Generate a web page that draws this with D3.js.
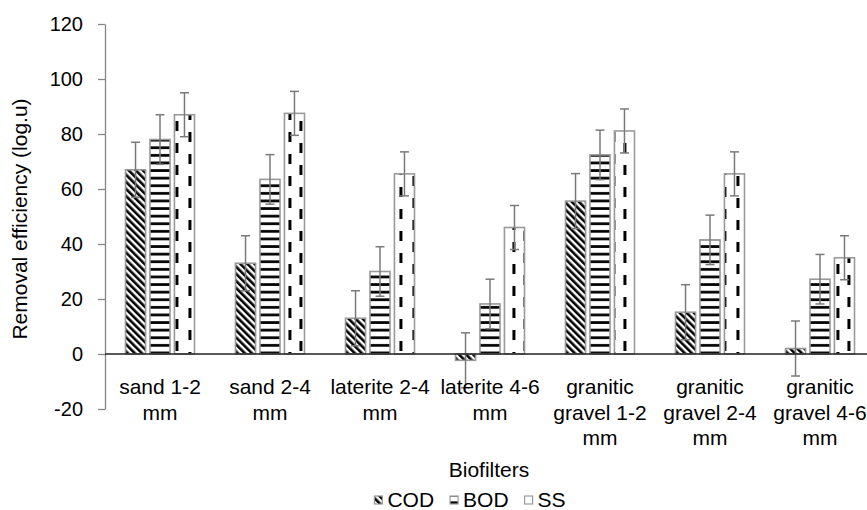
<!DOCTYPE html>
<html>
<head>
<meta charset="utf-8">
<script src="https://cdn.jsdelivr.net/npm/d3@7"></script>
<style>
  body { margin: 0; background: #fff; }
  text { font-family: "Liberation Sans", Arial, sans-serif; fill: #000; }
</style>
</head>
<body>
<script>
let w = 867;
let h = 510;

// data
var categories = ["sand 1-2 mm", "sand 2-4 mm", "laterite 2-4 mm", "laterite 4-6 mm",
    "granitic gravel 1-2 mm", "granitic gravel 2-4 mm", "granitic gravel 4-6 mm"];
var tickLines = [["sand 1-2", "mm"], ["sand 2-4", "mm"], ["laterite 2-4", "mm"], ["laterite 4-6", "mm"],
    ["granitic", "gravel 1-2", "mm"], ["granitic", "gravel 2-4", "mm"], ["granitic", "gravel 4-6", "mm"]];
var seriesNames = ["COD", "BOD", "SS"];
var cod = [67, 33, 13, -2.3, 55.6, 15.2, 2];
var bod = [78, 63.5, 30, 18.2, 72.4, 41.5, 27.2];
var ss = [87, 87.5, 65.5, 46, 81.1, 65.5, 35];
var codErr = [10, 10, 10, 10, 10, 10, 10];
var bodErr = [9, 9, 9, 9, 9, 9, 9];
var ssErr = [8, 8, 8, 8, 8, 8, 8];
var yTicks = [-20, 0, 20, 40, 60, 80, 100, 120];

var values = [cod, bod, ss];
var errors = [codErr, bodErr, ssErr];

var svg = d3.select("body").append("svg")
    .attr("width", w)
    .attr("height", h);

var defs = svg.append("defs");

var x = d3.scaleBand()
    .domain(categories)
    .range([105, 875])
    .padding(0);

var xInner = d3.scaleBand()
    .domain(seriesNames)
    .range([20.5, x.bandwidth() - 20.5])
    .paddingInner(0.18)
    .paddingOuter(0);

var y = d3.scaleLinear()
    .domain([-20, 120])
    .range([409, 24]);

// COD: "\" diagonal stripes
var pCod = defs.append("pattern")
    .attr("id", "p-COD")
    .attr("patternUnits", "userSpaceOnUse")
    .attr("width", 5).attr("height", 5)
    .attr("patternTransform", "rotate(-45)");
pCod.append("rect").attr("width", 5).attr("height", 5).attr("fill", "#fff");
pCod.append("rect").attr("width", 2.6).attr("height", 5).attr("fill", "#000");

// BOD: horizontal lines
var pBod = defs.append("pattern")
    .attr("id", "p-BOD")
    .attr("patternUnits", "userSpaceOnUse")
    .attr("width", 8).attr("height", 7.6);
pBod.append("rect").attr("width", 8).attr("height", 7.6).attr("fill", "#fff");
pBod.append("rect").attr("y", 2).attr("width", 8).attr("height", 2.7).attr("fill", "#000");

// SS: dashed vertical, one pattern per bar so the dashes sit inside it
var ssPattern = (id, x0) => {
    var p = defs.append("pattern")
        .attr("id", id)
        .attr("patternUnits", "userSpaceOnUse")
        .attr("x", x0).attr("y", 0)
        .attr("width", 24).attr("height", 22);
    p.append("rect").attr("width", 24).attr("height", 22).attr("fill", "#fff");
    p.append("rect").attr("x", 5).attr("y", 0).attr("width", 3).attr("height", 10).attr("fill", "#000");
    p.append("rect").attr("x", 16).attr("y", 11).attr("width", 3).attr("height", 10).attr("fill", "#000");
};
categories.forEach((c, i) => ssPattern("p-SS-" + i, x(c) + xInner("SS")));

var fillFor = (s, i) => s === "SS" ? "url(#p-SS-" + i + ")" : "url(#p-" + s + ")";

// y axis
var yAxis = svg.append("g")
    .attr("transform", "translate(105,0)")
    .call(d3.axisLeft(y).tickValues(yTicks).tickFormat(d => String(d))
        .tickSize(7).tickSizeOuter(0).tickPadding(15));
yAxis.select(".domain").attr("stroke", "#868686").attr("stroke-width", 1.3);
yAxis.selectAll(".tick line").attr("stroke", "#868686").attr("stroke-width", 1.3);
yAxis.selectAll(".tick text")
    .attr("font-size", 20)
    .attr("font-family", "Liberation Sans, Arial, sans-serif")
    .attr("fill", "#000");

// bars
var groups = svg.selectAll("g.cat").data(categories).enter().append("g")
    .attr("class", "cat")
    .attr("transform", d => "translate(" + x(d) + ",0)");

seriesNames.forEach((s, si) => {
    groups.append("rect")
        .attr("x", xInner(s))
        .attr("width", xInner.bandwidth())
        .attr("y", (d, i) => y(Math.max(0, values[si][i])))
        .attr("height", (d, i) => Math.abs(y(values[si][i]) - y(0)))
        .attr("fill", (d, i) => fillFor(s, i))
        .attr("stroke", "#9a9a9a")
        .attr("stroke-width", 1.6);
});

// x axis line at zero
svg.append("line")
    .attr("x1", 105).attr("x2", 875)
    .attr("y1", y(0)).attr("y2", y(0))
    .attr("stroke", "#222")
    .attr("stroke-width", 1.3);

// error bars
seriesNames.forEach((s, si) => {
    var cx = xInner(s) + xInner.bandwidth() / 2;
    var eb = groups.append("g").attr("stroke", "#7a7a7a").attr("stroke-width", 1.5);
    eb.append("line")
        .attr("x1", cx).attr("x2", cx)
        .attr("y1", (d, i) => y(values[si][i] + errors[si][i]))
        .attr("y2", (d, i) => y(values[si][i] - errors[si][i]));
    eb.append("line")
        .attr("x1", cx - 4.5).attr("x2", cx + 4.5)
        .attr("y1", (d, i) => y(values[si][i] + errors[si][i]))
        .attr("y2", (d, i) => y(values[si][i] + errors[si][i]));
    eb.append("line")
        .attr("x1", cx - 4.5).attr("x2", cx + 4.5)
        .attr("y1", (d, i) => y(values[si][i] - errors[si][i]))
        .attr("y2", (d, i) => y(values[si][i] - errors[si][i]));
});

// category labels
svg.selectAll("text.xlab").data(categories).enter().append("text")
    .attr("class", "xlab")
    .attr("text-anchor", "middle")
    .attr("font-size", 21)
    .each(function (d, i) {
        var t = d3.select(this);
        tickLines[i].forEach((line, k) => {
            t.append("tspan")
                .attr("x", x(d) + x.bandwidth() / 2)
                .attr("y", 394 + k * 25.5)
                .text(line);
        });
    });

// axis titles
svg.append("text")
    .attr("x", 489).attr("y", 477)
    .attr("text-anchor", "middle")
    .attr("font-size", 21)
    .text("Biofilters");

svg.append("text")
    .attr("transform", "translate(27,219) rotate(-90)")
    .attr("text-anchor", "middle")
    .attr("font-size", 21)
    .text("Removal efficiency (log.u)");

// legend
var legend = svg.append("g");
var lx = 0;
seriesNames.forEach((s, si) => {
    var item = legend.append("g").attr("transform", "translate(" + lx + ",0)");
    item.append("rect")
        .attr("x", 0).attr("y", -11)
        .attr("width", 8).attr("height", 8)
        .attr("fill", s === "SS" ? "#fff" : "url(#p-" + s + ")")
        .attr("stroke", "#9a9a9a")
        .attr("stroke-width", 1.2);
    var t = item.append("text")
        .attr("x", 13).attr("y", 0)
        .attr("font-size", 21)
        .text(s);
    lx += 13 + t.node().getComputedTextLength() + 16;
});
legend.attr("transform", "translate(" + (470 - (lx - 16) / 2) + ",507)");
</script>
</body>
</html>
